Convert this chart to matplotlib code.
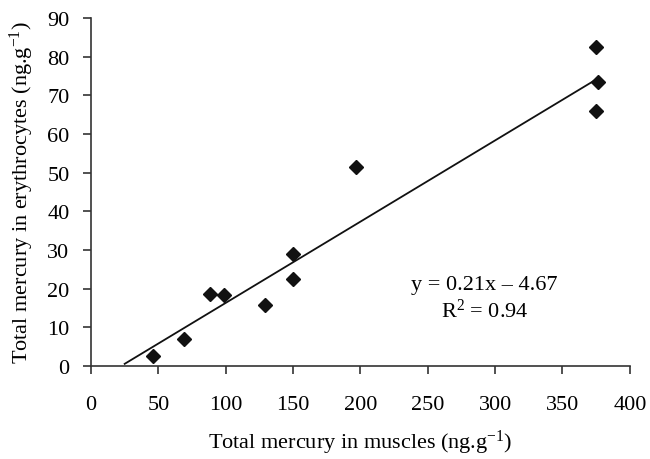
import matplotlib.pyplot as plt
import numpy as np

plt.rcParams['font.family'] = ['Liberation Serif', 'DejaVu Serif']
plt.rcParams['mathtext.fontset'] = 'custom'
plt.rcParams['mathtext.rm'] = 'Liberation Serif'
plt.rcParams['mathtext.it'] = 'Liberation Serif:italic'

muscles = [46, 69, 88, 99, 129, 150, 150, 197, 375, 376, 375]
erythro = [2.6, 7.0, 18.6, 18.4, 15.8, 29.0, 22.5, 51.5, 82.5, 73.4, 66.0]

slope = 0.21
intercept = -4.67
fit_x = np.array([25, 376])

fig = plt.figure(figsize=(6.5, 4.6), dpi=100)
ax = fig.add_axes([0.14, 0.202, 0.829, 0.757])

ax.plot(fit_x, slope * fit_x + intercept, color='#111111', lw=1.3)
ax.plot(muscles, erythro, 'D', color='#111111', markersize=7, ls='none')

ax.set_xlim(0, 400)
ax.set_ylim(0, 90)
ax.set_xticks(range(0, 401, 50))
ax.set_yticks(range(0, 91, 10))
for s in ['top', 'right']:
    ax.spines[s].set_visible(False)
for s in ['left', 'bottom']:
    ax.spines[s].set_color('#333333')
    ax.spines[s].set_linewidth(1.2)
ax.tick_params(direction='out', length=5.5, width=1.2, color='#333333',
               labelsize=16)
ax.tick_params(axis='x', pad=15)
ax.tick_params(axis='y', pad=10)

ax.text(292, 21.2, 'y = 0.21x \u2013 4.67', ha='center', va='center', fontsize=16)
ax.text(292, 14.5, 'R$^\\mathrm{2}$ = 0.94', ha='center', va='center', fontsize=16)

ax.set_xlabel('Total mercury in muscles (ng.g$^{\\mathrm{-1}}$)', fontsize=16, labelpad=10)
ax.set_ylabel('Total mercury in erythrocytes (ng.g$^{\\mathrm{-1}}$)', fontsize=16, labelpad=8)

fig.savefig('out.png', dpi=100)
